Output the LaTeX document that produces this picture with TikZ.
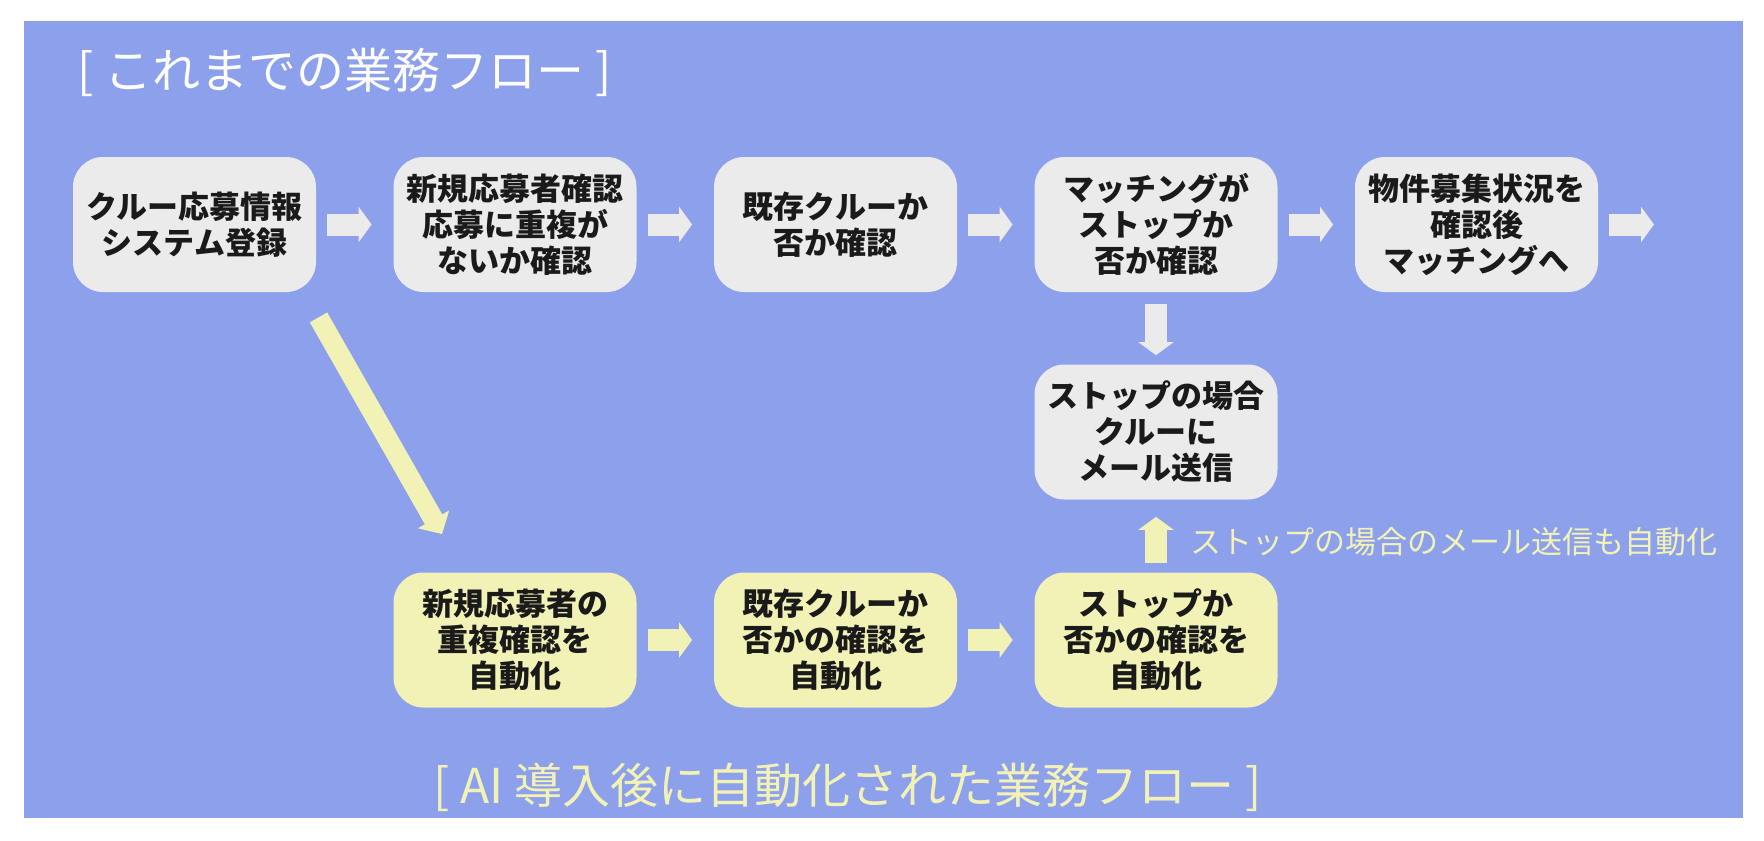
\documentclass[tikz,border=0pt]{standalone}
\usepackage{fontspec}
\setmainfont{Noto Sans CJK JP}
\usetikzlibrary{arrows.meta,calc}
\definecolor{bgblue}{HTML}{8CA0EC}
\definecolor{boxgray}{HTML}{EBEBEB}
\definecolor{boxyel}{HTML}{F2F2B6}
\definecolor{txt}{HTML}{1A1A1A}
\tikzset{%
    box/.style={rectangle, rounded corners=15pt, fill=boxgray, minimum width=121.5pt, minimum height=67.5pt, inner sep=0pt, align=center, text=txt, font=\bfseries\fontsize{15.5pt}{18pt}\selectfont},
    ybox/.style={box, fill=boxyel},
    garr/.style={line width=11pt, draw=boxgray, -{Triangle[width=17.5pt, length=6.5pt]}},
    yarr/.style={garr, draw=boxyel},
    ttl/.style={anchor=west, inner sep=0pt, font=\fontsize{24pt}{28pt}\selectfont},
    gap/.style={shorten <=5.5pt, shorten >=10.75pt}
}
\begin{document}
\begin{tikzpicture}[x=0.5pt, y=-0.5pt]
    \useasboundingbox (0,0) rectangle (1764,840);
    \fill[bgblue] (24,21) rectangle (1743,818);
    \node[ttl, text=white] (t1) at (77,72) {[ これまでの業務フロー ]};
    \node[ttl, text=boxyel] (t2) at (433,787) {[ AI 導入後に自動化された業務フロー ]};
    \node[box] (c1) at (194.5,224.5) {クルー応募情報\\システム登録};
    \node[box] (c2) at (515,224.5) {新規応募者確認\\応募に重複が\\ないか確認};
    \node[box] (c3) at (835.5,224.5) {既存クルーか\\否か確認};
    \node[box] (c4) at (1156,224.5) {マッチングが\\ストップか\\否か確認};
    \node[box] (c5) at (1476.5,224.5) {物件募集状況を\\確認後\\マッチングへ};
    \coordinate (out) at (1654,224.5);
    \node[box] (st) at (1156,432) {ストップの場合\\クルーに\\メール送信};
    \node[ybox] (a1) at (515,640) {新規応募者の\\重複確認を\\自動化};
    \node[ybox] (a2) at (835.5,640) {既存クルーか\\否かの確認を\\自動化};
    \node[ybox] (a3) at (1156,640) {ストップか\\否かの確認を\\自動化};
    \node[anchor=west, inner sep=0pt, text=boxyel, font=\fontsize{15.5pt}{18pt}\selectfont] (lb) at (1190,542) {ストップの場合のメール送信も自動化};
    \draw[garr, gap] (c1) -- (c2);
    \draw[garr, gap] (c2) -- (c3);
    \draw[garr, gap] (c3) -- (c4);
    \draw[garr, gap] (c4) -- (c5);
    \draw[garr, shorten <=5.5pt] (c5) -- (out);
    \draw[garr, shorten <=6pt, shorten >=4.5pt] (c4) -- (st);
    \draw[yarr, gap] (a1) -- (a2);
    \draw[yarr, gap] (a2) -- (a3);
    \draw[yarr, shorten <=4.5pt, shorten >=8.5pt] (a3) -- (st);
    \draw[yarr, line width=10pt, -{Triangle[width=17.5pt, length=8.5pt]}] ($(c1.south)+(124,25)$) -- ($(a1.north)+(-73,-38)$);
\end{tikzpicture}
\end{document}
